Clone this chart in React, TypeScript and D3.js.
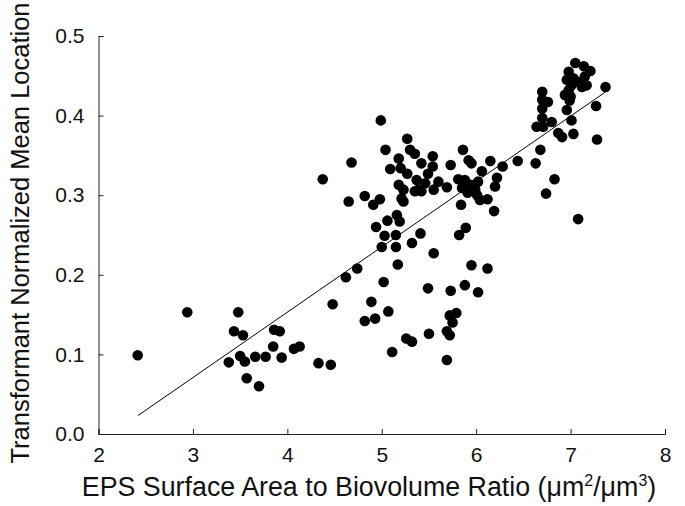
import React, { useEffect, useRef } from "react";
import * as d3 from "d3";

const xValues: number[] = [
  2.415, 2.94, 3.48, 3.435, 3.53, 3.38, 3.5, 3.55, 3.57, 3.7, 3.66, 3.77, 3.85, 3.86, 3.92, 3.94, 4.07, 4.13,
  4.33, 4.46, 4.48, 4.62, 4.74, 4.375, 4.68, 4.65, 4.99,
  5.02, 4.89, 4.82, 4.93, 5.07, 5.11, 5.26, 5.32, 5.49, 5.55, 5.5, 5.73, 5.72, 5.79, 5.75, 5.69, 5.72, 5.69,
  5.88, 6.02, 5.95, 6.12, 5.17,
  5.84, 6.19, 5.89, 5.82, 5.41, 4.94, 5.06, 5.16, 5.19, 5.03, 5.15, 5.0, 5.15, 5.32,
  5.04, 5.27, 5.3, 5.18, 5.35, 5.09, 5.2, 5.27, 5.37, 5.18, 5.23, 5.35, 5.21, 4.82, 4.98, 4.91, 5.23,
  5.54, 5.54, 5.49, 5.46, 5.39, 5.55, 5.6, 5.69, 5.73, 5.86, 5.92, 5.95, 5.81, 5.88,
  5.85, 5.94, 5.99, 6.02, 6.01, 5.91, 6.04, 6.06, 6.15, 6.22, 6.2, 6.12, 6.28, 6.44, 5.42, 5.42,
  6.63, 6.68, 6.83, 6.74, 7.08, 7.28, 7.03, 6.91, 6.87, 7.27, 7.01, 6.96, 6.8, 6.71, 6.64, 6.7, 6.7, 6.7, 6.7,
  6.76, 6.99,
  7.05, 7.14, 7.21, 6.98, 6.96, 7.03, 7.15, 7.17, 7.12, 7.01, 6.98, 7.0, 6.94, 7.37, 7.09,
];

const yValues: number[] = [
  0.099, 0.153, 0.153, 0.129, 0.124, 0.09, 0.098, 0.091, 0.07, 0.06, 0.097, 0.097, 0.11, 0.131, 0.129, 0.096, 0.107, 0.11,
  0.089, 0.087, 0.163, 0.197, 0.208, 0.32, 0.341, 0.292, 0.394,
  0.191, 0.166, 0.142, 0.145, 0.154, 0.103, 0.12, 0.116, 0.183, 0.227, 0.126, 0.18, 0.149, 0.152, 0.14, 0.129, 0.124, 0.093,
  0.187, 0.178, 0.212, 0.208, 0.213,
  0.288, 0.28, 0.259, 0.25, 0.252, 0.26, 0.268, 0.275, 0.267, 0.249, 0.25, 0.235, 0.235, 0.24,
  0.357, 0.371, 0.357, 0.346, 0.352, 0.333, 0.334, 0.327, 0.319, 0.313, 0.307, 0.305, 0.296, 0.299, 0.295, 0.288, 0.292,
  0.349, 0.336, 0.327, 0.315, 0.307, 0.307, 0.317, 0.31, 0.338, 0.357, 0.344, 0.34, 0.32, 0.319,
  0.309, 0.313, 0.307, 0.317, 0.3, 0.303, 0.294, 0.33, 0.343, 0.322, 0.311, 0.295, 0.336, 0.343, 0.34, 0.305,
  0.34, 0.357, 0.32, 0.302, 0.27, 0.37, 0.377, 0.373, 0.378, 0.412, 0.394, 0.407, 0.392, 0.386, 0.386, 0.397, 0.409, 0.42, 0.43,
  0.417, 0.419,
  0.466, 0.462, 0.456, 0.455, 0.445, 0.447, 0.449, 0.438, 0.436, 0.438, 0.432, 0.424, 0.426, 0.436, 0.442,
];

const fitX: number[] = [2.42, 7.37];
const fitY: number[] = [0.0233, 0.4297];

const xTicks: number[] = [2, 3, 4, 5, 6, 7, 8];
const yTicks: number[] = [0.0, 0.1, 0.2, 0.3, 0.4, 0.5];

const xTitle = "EPS Surface Area to Biovolume Ratio (";
const yTitle = "Transformant Normalized Mean Location";

const W = 685;
const H = 506;

export default function App() {
  const ref = useRef<SVGSVGElement>(null);

  useEffect(() => {
    const svg = d3.select(ref.current);
    svg.selectAll("*").remove();

    const x = d3.scaleLinear().domain([2, 8]).range([98.5, 665]);
    const y = d3.scaleLinear().domain([0, 0.5]).range([434, 36]);
    const font = "Arial, 'Liberation Sans', sans-serif";

    const gx = svg
      .append("g")
      .attr("transform", `translate(0,${y(0)})`)
      .call(
        d3
          .axisBottom(x)
          .tickValues(xTicks)
          .tickFormat(d3.format("d") as any)
          .tickSizeInner(-5)
          .tickSizeOuter(-5)
          .tickPadding(13)
      );
    gx.selectAll("text").attr("font-size", 21).attr("font-family", font).attr("fill", "#111");

    const gy = svg
      .append("g")
      .attr("transform", `translate(${x(2)},0)`)
      .call(
        d3
          .axisLeft(y)
          .tickValues(yTicks)
          .tickFormat(d3.format(".1f") as any)
          .tickSizeInner(-5)
          .tickSizeOuter(-5)
          .tickPadding(14)
      );
    gy.selectAll("text").attr("font-size", 21).attr("font-family", font).attr("fill", "#111");

    svg.selectAll(".domain").attr("stroke", "#222");
    svg.selectAll(".tick line").attr("stroke", "#222");

    const pts = d3.zip(xValues, yValues);
    svg
      .append("g")
      .selectAll("circle")
      .data(pts)
      .join("circle")
      .attr("cx", (d) => x(d[0]))
      .attr("cy", (d) => y(d[1]))
      .attr("r", 5.3)
      .attr("fill", "#000");

    const line = d3
      .line<[number, number]>()
      .x((d) => x(d[0]))
      .y((d) => y(d[1]));
    svg
      .append("path")
      .datum(d3.zip(fitX, fitY) as [number, number][])
      .attr("d", line)
      .attr("fill", "none")
      .attr("stroke", "#000")
      .attr("stroke-width", 1);

    const xt = svg
      .append("text")
      .attr("x", 369)
      .attr("y", 496)
      .attr("text-anchor", "middle")
      .attr("font-size", 26.8)
      .attr("font-family", font)
      .attr("fill", "#111");
    xt.append("tspan").text(xTitle + "\u03BCm");
    xt.append("tspan").attr("font-size", 16).attr("dy", -10).text("2");
    xt.append("tspan").attr("dy", 10).text("/\u03BCm");
    xt.append("tspan").attr("font-size", 16).attr("dy", -10).text("3");
    xt.append("tspan").attr("dy", 10).text(")");

    svg
      .append("text")
      .attr("transform", `translate(29,${233}) rotate(-90)`)
      .attr("text-anchor", "middle")
      .attr("font-size", 25.5)
      .attr("font-family", font)
      .attr("fill", "#111")
      .text(yTitle);
  }, []);

  return (
    <svg
      ref={ref}
      width={W}
      height={H}
      style={{ position: "absolute", left: 0, top: 0, display: "block", background: "#fff" }}
    />
  );
}
